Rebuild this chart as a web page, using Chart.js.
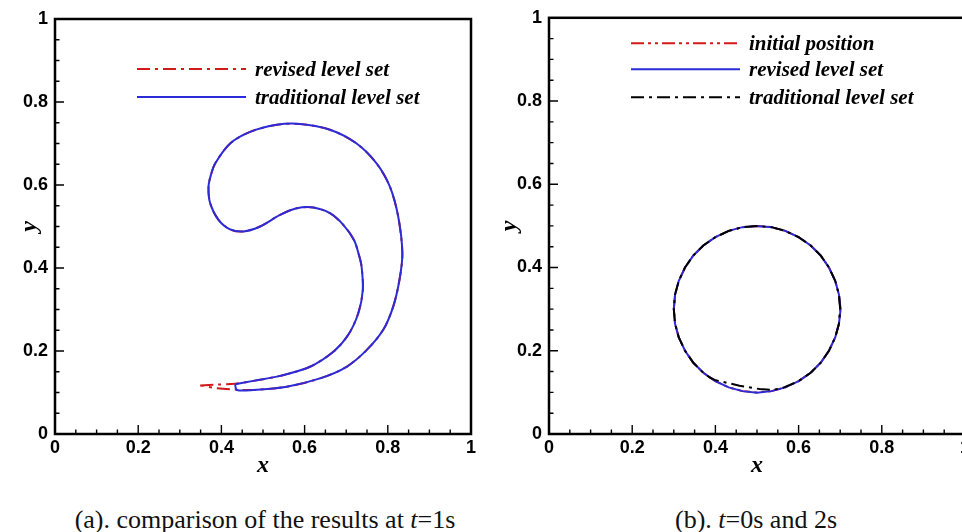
<!DOCTYPE html>
<html><head><meta charset="utf-8">
<script src="https://cdn.jsdelivr.net/npm/chart.js@4"></script>
<style>
html,body{margin:0;padding:0;background:#fff;overflow:hidden;}
#wrap{position:relative;width:962px;height:532px;overflow:hidden;background:#fff;}
canvas{position:absolute;top:0;}
.cap{position:absolute;font-family:"Liberation Serif","Times New Roman",serif;font-size:26px;line-height:26px;white-space:nowrap;color:#111;transform:translateX(-50%);}
</style></head>
<body><div id="wrap">
<canvas id="cA" width="481" height="480" style="left:0px"></canvas>
<canvas id="cB" width="481" height="480" style="left:494px"></canvas>
<div class="cap" style="left:265px;top:507px">(a). comparison of the results at <i>t</i>=1s</div>
<div class="cap" style="left:756px;top:507px">(b). <i>t</i>=0s and 2s</div>
</div>
<script>
// ---- axis ticks ----
const axisTicks = [0, 0.2, 0.4, 0.6, 0.8, 1];
const axisTickLabels = ['0', '0.2', '0.4', '0.6', '0.8', '1'];

// ---- panel (a): t = 1 s ----
const labelsA = ['revised level set', 'traditional level set'];
const traditionalA_x = [0.433,0.477,0.541,0.613,0.669,0.705,0.729,0.740,0.737,0.731,0.719,0.693,0.661,0.621,0.581,0.541,0.493,0.453,0.421,0.393,0.373,0.369,0.375,0.385,0.421,0.469,0.533,0.589,0.661,0.725,0.773,0.805,0.825,0.835,0.828,0.813,0.789,0.749,0.701,0.637,0.557,0.477,0.437,0.433];
const traditionalA_y = [0.120,0.128,0.140,0.162,0.198,0.239,0.291,0.347,0.403,0.430,0.467,0.504,0.532,0.546,0.544,0.528,0.500,0.488,0.493,0.516,0.556,0.596,0.625,0.652,0.700,0.728,0.745,0.747,0.733,0.700,0.652,0.596,0.524,0.435,0.371,0.307,0.251,0.202,0.162,0.134,0.114,0.106,0.106,0.120];
const revisedA_x = [0.349,0.390,0.433,0.477,0.541,0.613,0.669,0.705,0.729,0.740,0.737,0.731,0.719,0.693,0.661,0.621,0.581,0.541,0.493,0.453,0.421,0.393,0.373,0.369,0.375,0.385,0.421,0.469,0.533,0.589,0.661,0.725,0.773,0.805,0.825,0.835,0.828,0.813,0.789,0.749,0.701,0.637,0.557,0.477,0.433,0.390,0.349];
const revisedA_y = [0.117,0.119,0.121,0.128,0.140,0.162,0.198,0.239,0.291,0.347,0.403,0.430,0.467,0.504,0.532,0.546,0.544,0.528,0.500,0.488,0.493,0.516,0.556,0.596,0.625,0.652,0.700,0.728,0.745,0.747,0.733,0.700,0.652,0.596,0.524,0.435,0.371,0.307,0.251,0.202,0.162,0.134,0.114,0.106,0.107,0.110,0.117];

// ---- panel (b): t = 0 s and 2 s ----
const labelsB = ['initial position', 'revised level set', 'traditional level set'];
const initialB_x = [0.700,0.697,0.688,0.673,0.653,0.629,0.600,0.568,0.535,0.500,0.465,0.432,0.400,0.371,0.347,0.327,0.312,0.303,0.300,0.303,0.312,0.327,0.347,0.371,0.400,0.432,0.465,0.500,0.535,0.568,0.600,0.629,0.653,0.673,0.688,0.697,0.700];
const initialB_y = [0.300,0.335,0.368,0.400,0.429,0.453,0.473,0.488,0.497,0.500,0.497,0.488,0.473,0.453,0.429,0.400,0.368,0.335,0.300,0.265,0.232,0.200,0.171,0.147,0.127,0.112,0.103,0.100,0.103,0.112,0.127,0.147,0.171,0.200,0.232,0.265,0.300];
const revisedB_x = [0.701,0.697,0.688,0.673,0.653,0.629,0.600,0.568,0.535,0.500,0.465,0.432,0.400,0.371,0.347,0.327,0.312,0.303,0.300,0.303,0.312,0.327,0.347,0.371,0.400,0.432,0.465,0.500,0.535,0.568,0.600,0.629,0.653,0.673,0.688,0.697,0.701];
const revisedB_y = [0.300,0.335,0.368,0.400,0.429,0.453,0.473,0.488,0.497,0.500,0.497,0.488,0.473,0.453,0.429,0.400,0.368,0.335,0.300,0.265,0.232,0.200,0.171,0.147,0.127,0.112,0.103,0.099,0.103,0.112,0.127,0.147,0.171,0.200,0.232,0.265,0.300];
const traditionalB_x = [0.700,0.697,0.688,0.673,0.653,0.629,0.600,0.568,0.535,0.500,0.465,0.432,0.400,0.371,0.347,0.327,0.312,0.303,0.300,0.303,0.312,0.327,0.347,0.371,0.386,0.398,0.458,0.506,0.538,0.562,0.600,0.629,0.653,0.673,0.688,0.697,0.700];
const traditionalB_y = [0.300,0.335,0.368,0.400,0.429,0.453,0.473,0.488,0.497,0.500,0.497,0.488,0.473,0.453,0.429,0.400,0.368,0.335,0.300,0.265,0.232,0.200,0.171,0.147,0.136,0.130,0.116,0.108,0.106,0.111,0.127,0.147,0.171,0.200,0.232,0.265,0.300];

// ---- styles ----
const RED = '#d21a1a', BLUE = '#2b2bd8', BLACK = '#000000';
const DASH_DOT = [13, 5, 3, 5];
const DASH_DOT_DOT = [13, 4, 3, 4, 3, 4];

const pts = (xs, ys) => xs.map((x, i) => ({x: x, y: ys[i]}));

const framePlugin = {
  id: 'frameTicks',
  afterDatasetsDraw(chart) {
    const {ctx, chartArea: a, scales} = chart;
    const sx = scales.x, sy = scales.y;
    ctx.save();
    ctx.strokeStyle = '#000';
    ctx.lineWidth = 1.4;
    ctx.beginPath();
    const minorPerMajor = 4;
    for (let k = 0; k < axisTicks.length - 1; k++) {
      for (let m = 0; m <= minorPerMajor; m++) {
        if (m === 0 && k > 0) continue;
        const v = axisTicks[k] + (axisTicks[k + 1] - axisTicks[k]) * m / minorPerMajor;
        const major = (m === 0 || m === minorPerMajor);
        const len = major ? 9 : 4.5;
        const px = sx.getPixelForValue(v);
        ctx.moveTo(px, a.bottom); ctx.lineTo(px, a.bottom - len);
        const py = sy.getPixelForValue(v);
        ctx.moveTo(a.left, py); ctx.lineTo(a.left + len, py);
      }
    }
    ctx.stroke();
    ctx.lineWidth = 2.5;
    ctx.strokeRect(a.left, a.top, a.right - a.left, a.bottom - a.top);
    ctx.restore();
  }
};

const legendPlugin = {
  id: 'inLegend',
  afterDraw(chart, args, opts) {
    const {ctx, chartArea: a} = chart;
    ctx.save();
    chart.data.datasets.forEach((ds, i) => {
      const yy = a.top + opts.rows[i];
      ctx.strokeStyle = ds.borderColor;
      ctx.lineWidth = 2;
      ctx.setLineDash(ds.borderDash || []);
      ctx.beginPath();
      ctx.moveTo(a.left + opts.lineStart, yy);
      ctx.lineTo(a.left + opts.lineEnd, yy);
      ctx.stroke();
      ctx.setLineDash([]);
      ctx.fillStyle = '#000';
      ctx.font = 'italic bold 21px "Liberation Serif", "Times New Roman", serif';
      ctx.textBaseline = 'alphabetic';
      ctx.textAlign = 'left';
      ctx.fillText(ds.label, a.left + opts.textStart, yy + 7);
    });
    ctx.restore();
  }
};

function makeOptions(p) {
  const tickFont = {family: '"Liberation Sans", Arial, sans-serif', size: 18, weight: 'bold'};
  const titleFont = {family: '"Liberation Serif", "Times New Roman", serif', size: 24, weight: 'bold', style: 'italic', lineHeight: 1};
  return {
    responsive: false, animation: false, events: [],
    layout: {padding: {left: 0, top: p.top, right: 10, bottom: 0}},
    plugins: {
      legend: {display: false}, tooltip: {enabled: false},
      inLegend: {rows: p.rows, lineStart: 82, lineEnd: 191, textStart: 200}
    },
    scales: {
      x: {
        type: 'linear', min: 0, max: 1,
        grid: {display: false, drawTicks: false}, border: {display: false},
        afterBuildTicks: s => { s.ticks = axisTicks.map(v => ({value: v})); },
        afterFit: s => { s.height = 46; },
        ticks: {padding: 3, maxRotation: 0, autoSkip: false, color: '#000', font: tickFont,
                callback: (v, i) => axisTickLabels[i]},
        title: {display: true, text: 'x', color: '#000', font: titleFont, padding: {top: 0, bottom: 2}}
      },
      y: {
        type: 'linear', min: 0, max: 1,
        grid: {display: false, drawTicks: false}, border: {display: false},
        afterBuildTicks: s => { s.ticks = axisTicks.map(v => ({value: v})); },
        afterFit: s => { s.width = 55; },
        ticks: {padding: 7, autoSkip: false, color: '#000', font: tickFont,
                callback: (v, i) => axisTickLabels[i]},
        title: {display: true, text: 'y', color: '#000', font: titleFont, padding: {top: p.yTitlePad, bottom: 0}}
      }
    }
  };
}

new Chart(document.getElementById('cA'), {
  type: 'scatter',
  data: {datasets: [
    {label: labelsA[0], data: pts(revisedA_x, revisedA_y), showLine: true, borderColor: RED, borderWidth: 2,
     borderDash: DASH_DOT, pointRadius: 0, tension: 0.3, order: 1},
    {label: labelsA[1], data: pts(traditionalA_x, traditionalA_y), showLine: true, borderColor: BLUE, borderWidth: 2,
     pointRadius: 0, tension: 0.3, order: 0}
  ]},
  options: makeOptions({top: 19, rows: [50, 78], yTitlePad: 17.5}),
  plugins: [framePlugin, legendPlugin]
});

new Chart(document.getElementById('cB'), {
  type: 'scatter',
  data: {datasets: [
    {label: labelsB[0], data: pts(initialB_x, initialB_y), showLine: true, borderColor: RED, borderWidth: 2,
     borderDash: DASH_DOT_DOT, pointRadius: 0, tension: 0, order: 2},
    {label: labelsB[1], data: pts(revisedB_x, revisedB_y), showLine: true, borderColor: BLUE, borderWidth: 2,
     pointRadius: 0, tension: 0, order: 1},
    {label: labelsB[2], data: pts(traditionalB_x, traditionalB_y), showLine: true, borderColor: BLACK, borderWidth: 2,
     borderDash: DASH_DOT, pointRadius: 0, tension: 0, order: 0}
  ]},
  options: makeOptions({top: 16.5, rows: [25.5, 51.5, 79.5], yTitlePad: 4}),
  plugins: [framePlugin, legendPlugin]
});
</script>
</body></html>
